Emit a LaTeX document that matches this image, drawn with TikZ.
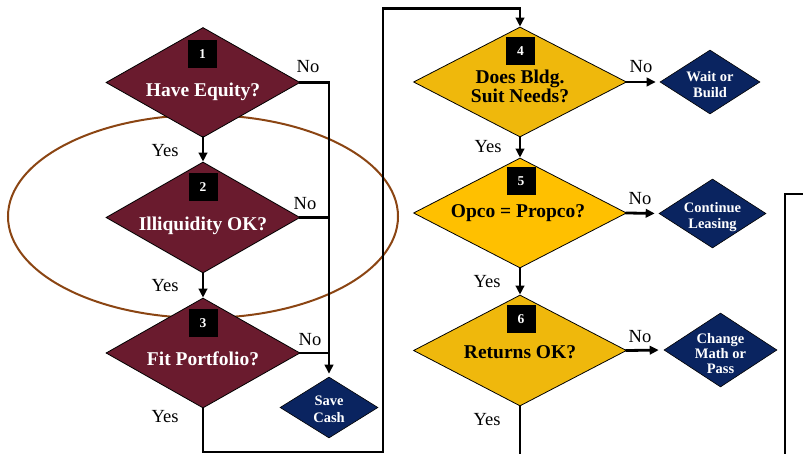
\documentclass[tikz,border=0pt]{standalone}
\usepackage{fontspec}
\setmainfont{Liberation Serif}
\usetikzlibrary{shapes.geometric,arrows.meta}

\definecolor{maroon}{HTML}{6A1B2E}
\definecolor{goldA}{HTML}{EFB80C}
\definecolor{goldB}{HTML}{FFC000}
\definecolor{navy}{HTML}{0A2460}
\definecolor{ringbrown}{HTML}{8B4513}

\tikzset{
  decision/.style={diamond, draw=black, line width=0.8pt, inner sep=0pt, aspect=1},
  outcome/.style={diamond, draw=black, line width=0.6pt, fill=navy, inner sep=0pt},
  numbox/.style={fill=black, text=white, minimum width=29pt, minimum height=28pt,
    inner sep=0pt, font=\fontsize{13.5}{14}\selectfont\bfseries},
  qtext/.style={anchor=base, inner sep=0pt, font=\fontsize{19.5}{20}\selectfont\bfseries},
  otext/.style={anchor=base, inner sep=0pt, text=white, font=\fontsize{14.5}{15}\selectfont\bfseries},
  answer/.style={anchor=base, inner sep=0pt, font=\fontsize{18.5}{19}\selectfont},
  flow/.style={line width=2.8pt, line cap=rect},
  flowarrow/.style={flow, -{Triangle[length=9pt,width=8.5pt]}},
}

\begin{document}
\begin{tikzpicture}[x=1pt, y=-1pt]
\useasboundingbox (0,0) rectangle (803,454);

% ring drawn first so the diamonds sit on top of it
\draw[ringbrown, line width=2pt] (203,216.5) ellipse [x radius=195, y radius=101.5];

% first column of decisions
\node[decision, fill=maroon, minimum width=194pt, minimum height=110pt] (d1) at (203,82.5) {};
\node[decision, fill=maroon, minimum width=194pt, minimum height=111pt] (d2) at (203,217.5) {};
\node[decision, fill=maroon, minimum width=194pt, minimum height=110pt] (d3) at (203,353) {};

% second column of decisions
\node[decision, fill=goldA, minimum width=213pt, minimum height=110pt] (d4) at (520,82) {};
\node[decision, fill=goldB, minimum width=213pt, minimum height=110pt] (d5) at (520,213) {};
\node[decision, fill=goldA, minimum width=213pt, minimum height=111pt] (d6) at (520,350.5) {};

% end states
\node[outcome, minimum width=98pt, minimum height=61pt] (sv) at (329,407.5) {};
\node[outcome, minimum width=100pt, minimum height=64pt] (wb) at (710,82) {};
\node[outcome, minimum width=107pt, minimum height=69pt] (cl) at (712.5,213.5) {};
\node[outcome, minimum width=113pt, minimum height=74pt] (cm) at (720.5,350) {};

% step numbers
\node[numbox] (n1) at (202.5,54) {1};
\node[numbox] (n2) at (203,187.5) {2};
\node[numbox] (n3) at (203,323) {3};
\node[numbox] (n4) at (520.5,51) {4};
\node[numbox] (n5) at (521,181.5) {5};
\node[numbox] (n6) at (521,319) {6};

% questions
\node[qtext, text=white] (q1) at (203,97) {Have Equity?};
\node[qtext, text=white] (q2) at (203,231) {Illiquidity OK?};
\node[qtext, text=white] (q3) at (203,365) {Fit Portfolio?};
\node[qtext] (q4a) at (520,84) {Does Bldg.};
\node[qtext] (q4b) at (520,102.5) {Suit Needs?};
\node[qtext] (q5) at (518,218) {Opco = Propco?};
\node[qtext] (q6) at (520,358) {Returns OK?};

% end-state texts
\node[otext] (s1) at (329,405) {Save};
\node[otext] (s2) at (329,422) {Cash};
\node[otext] (w1) at (710,82) {Wait or};
\node[otext] (w2) at (710,97.5) {Build};
\node[otext] (c1) at (712.5,213) {Continue};
\node[otext] (c2) at (712.5,228.5) {Leasing};
\node[otext] (m1) at (720.5,343) {Change};
\node[otext] (m2) at (720.5,358) {Math or};
\node[otext] (m3) at (720.5,373) {Pass};

% branch labels
\node[answer] (no1) at (308,73) {No};
\node[answer] (no2) at (305,210) {No};
\node[answer] (no3) at (310,345) {No};
\node[answer] (no4) at (641,73) {No};
\node[answer] (no5) at (640,205) {No};
\node[answer] (no6) at (640,342) {No};
\node[answer] (yes1) at (165,157) {Yes};
\node[answer] (yes2) at (165,292) {Yes};
\node[answer] (yes3) at (165,422) {Yes};
\node[answer] (yes4) at (488,153) {Yes};
\node[answer] (yes5) at (487,288) {Yes};
\node[answer] (yes6) at (487,425) {Yes};

% routing points
\coordinate (lpA) at (383,452);
\coordinate (lpB) at (383,8.5);
\coordinate (tail6) at (520,456);
\coordinate (rA) at (806,194);
\coordinate (rB) at (785,194);
\coordinate (rC) at (785,456);

% yes path, first column
\draw[flowarrow] (d1.south) -- (d2.north);
\draw[flowarrow] (d2.south) -- (d3.north);

% no paths into Save Cash
\draw[flowarrow, shorten >=3pt] (d1.east) -| (sv.north);
\draw[flow] (d2.east) -- (d2.east -| sv.north);
\draw[flow] (d3.east) -- (d3.east -| sv.north);

% hand-off from column one to column two
\draw[flowarrow] (d3.south) |- (lpA) -- (lpB) -| (d4.north);

% second column
\draw[flowarrow] (d4.south) -- (d5.north);
\draw[flowarrow] (d5.south) -- (d6.north);
\draw[flow] (d6.south) -- (tail6);
\draw[flowarrow, shorten >=4pt] (d4.east) -- (wb.west);
\draw[flowarrow, shorten >=4pt] (d5.east) -- (cl.west);
\draw[flowarrow, shorten >=5pt] (d6.east) -- (cm.west);

% line along the right edge
\draw[flow] (rA) -- (rB) -- (rC);
\end{tikzpicture}
\end{document}
